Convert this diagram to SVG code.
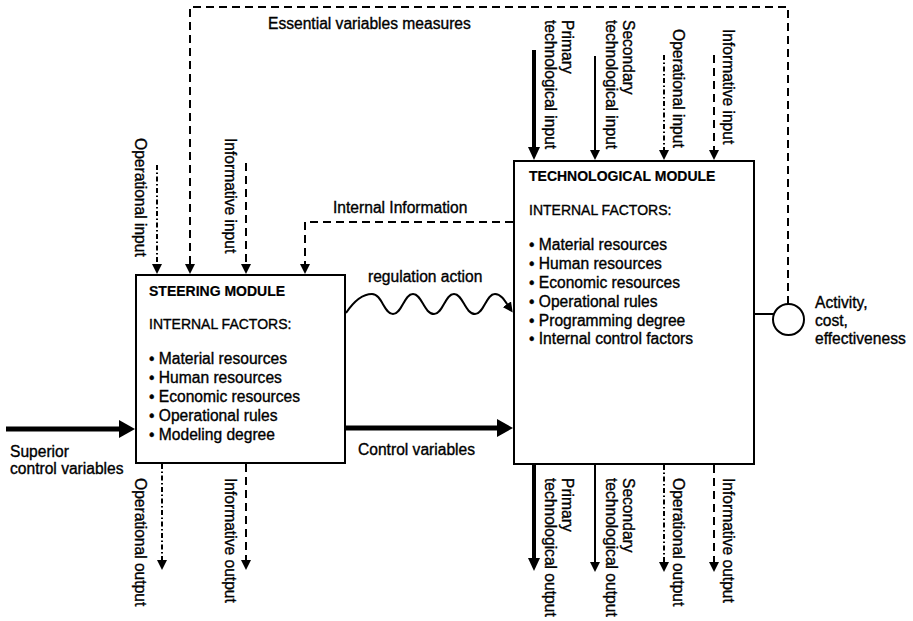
<svg xmlns="http://www.w3.org/2000/svg" width="913" height="621" viewBox="0 0 913 621">
  <style>
    text { font-family: "Liberation Sans", Arial, Helvetica, sans-serif; fill: #000; stroke: #000; stroke-width: 0.35; }
    .lbl { font-size: 15.6px; }
    .caps { font-size: 14px; }
    .title { font-size: 14px; font-weight: bold; stroke-width: 0.2; }
    .box { fill: #fff; stroke: #000; stroke-width: 2; }
    .ln { fill: none; stroke: #000; stroke-width: 2; }
    .dash { stroke-dasharray: 8 5; }
    .dashdot { stroke-dasharray: 5 2.5 1.5 2.5; }
    .thick { stroke-width: 4; }
    .heavy { stroke-width: 5; }
  </style>
  <defs>
    <marker id="arr-s" viewBox="0 0 10 10" refX="7" refY="5" markerWidth="10" markerHeight="10" markerUnits="userSpaceOnUse" orient="auto">
      <path d="M0,0 L10,5 L0,10 z" fill="#000"/>
    </marker>
    <marker id="arr-m" viewBox="0 0 13 12" refX="8" refY="6" markerWidth="13" markerHeight="12" markerUnits="userSpaceOnUse" orient="auto">
      <path d="M0,0 L13,6 L0,12 z" fill="#000"/>
    </marker>
    <marker id="arr-l" viewBox="0 0 16 18" refX="8" refY="9" markerWidth="16" markerHeight="18" markerUnits="userSpaceOnUse" orient="auto">
      <path d="M0,0 L16,9 L0,18 z" fill="#000"/>
    </marker>
  </defs>

  <!-- connectors -->
  <g id="connectors">
    <!-- feedback loop of the essential variables -->
    <path class="ln dash" d="M788,304 V7 H190 V271" marker-end="url(#arr-s)"/>
    <!-- internal information back to the steering module -->
    <path class="ln dash" d="M513,222 H305 V271" marker-end="url(#arr-s)"/>
    <!-- steering module inputs -->
    <path class="ln dashdot" d="M157,165 V271" marker-end="url(#arr-s)"/>
    <path class="ln dash" d="M246,163 V271" marker-end="url(#arr-s)"/>
    <!-- steering module outputs -->
    <path class="ln dashdot" d="M162,464 V567" marker-end="url(#arr-s)"/>
    <path class="ln dash" d="M246,464 V567" marker-end="url(#arr-s)"/>
    <!-- technological module inputs -->
    <path class="ln thick" d="M534,50 V155" marker-end="url(#arr-m)"/>
    <path class="ln" d="M595,56 V157" marker-end="url(#arr-s)"/>
    <path class="ln dashdot" d="M664,55 V157" marker-end="url(#arr-s)"/>
    <path class="ln dash" d="M714,55 V157" marker-end="url(#arr-s)"/>
    <!-- technological module outputs -->
    <path class="ln thick" d="M534,465 V566" marker-end="url(#arr-m)"/>
    <path class="ln" d="M595,465 V569" marker-end="url(#arr-s)"/>
    <path class="ln dashdot" d="M664,465 V569" marker-end="url(#arr-s)"/>
    <path class="ln dash" d="M714,465 V569" marker-end="url(#arr-s)"/>
    <!-- control flows -->
    <path class="ln heavy" d="M6,429 H127" marker-end="url(#arr-l)"/>
    <path class="ln heavy" d="M346,428 H505" marker-end="url(#arr-l)"/>
    <!-- regulation action (wavy) -->
    <path class="ln" d="M346,313 C356,298 364,294 372,294 C382,294 384,314 393,314 C402,314 404,294 413,294 C422,294 424,314 434,314 C443,314 445,294 454,294 C463,294 465,314 475,314 C484,314 486,294 495,294 C502,294 506,303 511,310" marker-end="url(#arr-s)"/>
    <!-- measurement of the technological output -->
    <path class="ln" d="M755,314 H774"/>
  </g>

  <!-- measurement point -->
  <g id="measure">
    <circle class="box" cx="788.5" cy="319.5" r="15.5"/>
  </g>

  <!-- steering module -->
  <g id="steering-module">
    <rect class="box" x="136" y="275" width="209" height="188"/>
    <text class="title" x="149" y="296">STEERING MODULE</text>
    <text class="caps" x="149" y="329">INTERNAL FACTORS:</text>
    <text class="lbl" x="149" y="364">• Material resources</text>
    <text class="lbl" x="149" y="383">• Human resources</text>
    <text class="lbl" x="149" y="402">• Economic resources</text>
    <text class="lbl" x="149" y="421">• Operational rules</text>
    <text class="lbl" x="149" y="439.5">• Modeling degree</text>
  </g>

  <!-- technological module -->
  <g id="technological-module">
    <rect class="box" x="514" y="161" width="240" height="303"/>
    <text class="title" x="529" y="181">TECHNOLOGICAL MODULE</text>
    <text class="caps" x="529" y="215">INTERNAL FACTORS:</text>
    <text class="lbl" x="529" y="250">• Material resources</text>
    <text class="lbl" x="529" y="269">• Human resources</text>
    <text class="lbl" x="529" y="287.5">• Economic resources</text>
    <text class="lbl" x="529" y="306.5">• Operational rules</text>
    <text class="lbl" x="529" y="325.5">• Programming degree</text>
    <text class="lbl" x="529" y="344">• Internal control factors</text>
  </g>

  <!-- flow labels -->
  <g id="labels">
    <text class="lbl" x="268" y="29">Essential variables measures</text>
    <text class="lbl" x="333" y="213">Internal Information</text>
    <text class="lbl" x="368" y="282">regulation action</text>
    <text class="lbl" x="358" y="455">Control variables</text>
    <text class="lbl" x="10" y="457">Superior</text>
    <text class="lbl" x="10" y="474">control variables</text>
    <text class="lbl" x="815" y="308">Activity,</text>
    <text class="lbl" x="815" y="326">cost,</text>
    <text class="lbl" x="815" y="344">effectiveness</text>

    <!-- vertical labels, steering module -->
    <text class="lbl" transform="translate(135,138) rotate(90)">Operational input</text>
    <text class="lbl" transform="translate(225,138) rotate(90)">Informative input</text>
    <text class="lbl" transform="translate(135,478) rotate(90)">Operational output</text>
    <text class="lbl" transform="translate(225,478) rotate(90)">Informative output</text>

    <!-- vertical labels, technological module inputs -->
    <text class="lbl" transform="translate(562,20) rotate(90)">Primary</text>
    <text class="lbl" transform="translate(545,20) rotate(90)">technological input</text>
    <text class="lbl" transform="translate(623,20) rotate(90)">Secondary</text>
    <text class="lbl" transform="translate(606,20) rotate(90)">technological input</text>
    <text class="lbl" transform="translate(673,29) rotate(90)">Operational input</text>
    <text class="lbl" transform="translate(723,29) rotate(90)">Informative input</text>

    <!-- vertical labels, technological module outputs -->
    <text class="lbl" transform="translate(562,478) rotate(90)">Primary</text>
    <text class="lbl" transform="translate(545,478) rotate(90)">technological output</text>
    <text class="lbl" transform="translate(623,478) rotate(90)">Secondary</text>
    <text class="lbl" transform="translate(606,478) rotate(90)">technological output</text>
    <text class="lbl" transform="translate(673,478) rotate(90)">Operational output</text>
    <text class="lbl" transform="translate(723,478) rotate(90)">Informative output</text>
  </g>
</svg>
